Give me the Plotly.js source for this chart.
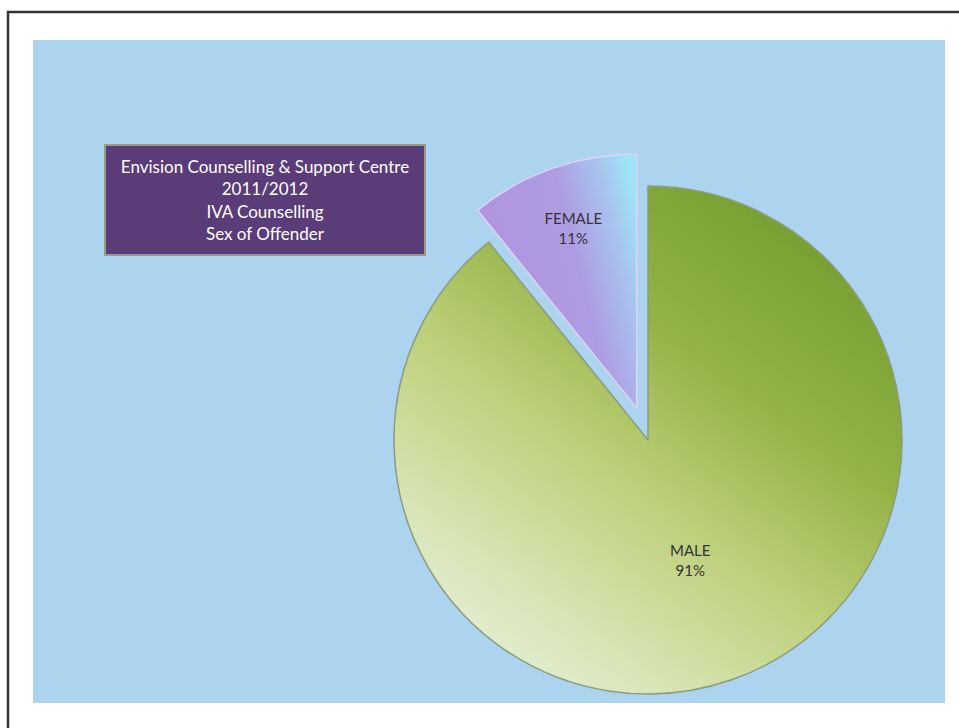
<!DOCTYPE html>
<html>
<head>
<meta charset="utf-8">
<script src="https://cdn.plot.ly/plotly-3.0.1.min.js"></script>
<style>html,body{margin:0;padding:0;background:#fff;}#chart{width:959px;height:728px;}</style>
</head>
<body>
<div id="chart"></div>
<script>
// ---- data ----
const labels = ["MALE", "FEMALE"];
const values = [91, 11];               // percentages as printed on the chart
const pulls = [0, 0.134];
const sliceColors = ["#a9c259", "#b39ae0"];
const sliceLines = ["#8d9b7f", "#dcd4f2"];
const titleLines = ["Envision Counselling &amp; Support Centre", "2011/2012", "IVA Counselling", "Sex of Offender"];

const W = 959, H = 728;
const px = v => v / W;
const py = v => 1 - v / H;

const trace = {
  type: "pie",
  labels: labels,
  values: values,
  sort: false,
  direction: "clockwise",
  rotation: 0,
  pull: pulls,
  marker: { colors: sliceColors, line: { color: sliceLines, width: 1.5 } },
  texttemplate: "%{label}<br>%{value}%",
  textposition: "inside",
  insidetextorientation: "horizontal",
  textfont: { family: "Lato, 'Open Sans', sans-serif", size: 15, color: "#333333" },
  hoverinfo: "label+value",
  showlegend: false,
  domain: { x: [px(360), px(936)], y: [0, py(152)] }
};

const layout = {
  width: W, height: H,
  margin: { l: 0, r: 0, t: 0, b: 0 },
  paper_bgcolor: "#ffffff",
  showlegend: false,
  shapes: [
    { type: "rect", xref: "paper", yref: "paper", layer: "below",
      x0: px(8), x1: px(975), y0: py(745), y1: py(12),
      line: { color: "#333333", width: 2.5 }, fillcolor: "rgba(0,0,0,0)" },
    { type: "rect", xref: "paper", yref: "paper", layer: "below",
      x0: px(33), x1: px(945), y0: py(703), y1: py(40),
      line: { width: 0 }, fillcolor: "#acd4ef" }
  ],
  annotations: [
    { xref: "paper", yref: "paper", x: px(265), y: py(200),
      xanchor: "center", yanchor: "middle", showarrow: false,
      text: titleLines.join("<br>"), align: "center",
      width: 314, height: 104, borderpad: 2,
      bgcolor: "#5a3d78", bordercolor: "#9a9a86", borderwidth: 2,
      font: { family: "Lato, 'Open Sans', sans-serif", size: 17, color: "#ffffff" } }
  ]
};

Plotly.newPlot("chart", [trace], layout, { displayModeBar: false, staticPlot: true }).then(function (gd) {
  const svg = gd.querySelector(".main-svg");
  const ns = "http://www.w3.org/2000/svg";
  let defs = svg.querySelector("defs");
  if (!defs) { defs = document.createElementNS(ns, "defs"); svg.insertBefore(defs, svg.firstChild); }
  function grad(id, x1, y1, x2, y2, stops) {
    const g = document.createElementNS(ns, "linearGradient");
    g.setAttribute("id", id);
    g.setAttribute("x1", x1); g.setAttribute("y1", y1);
    g.setAttribute("x2", x2); g.setAttribute("y2", y2);
    stops.forEach(function (s) {
      const st = document.createElementNS(ns, "stop");
      st.setAttribute("offset", s[0]);
      st.setAttribute("stop-color", s[1]);
      g.appendChild(st);
    });
    defs.appendChild(g);
  }
  grad("gMale", 0.95, 0.1, 0.3, 1.0, [[0, "#6f9b2c"], [0.35, "#93b346"], [0.6, "#bccf78"], [0.85, "#d6e3b0"], [1, "#e2edd0"]]);
  grad("gFemale", 0.0, 0.6, 1.0, 0.2, [[0, "#b292dc"], [0.6, "#ae9ce2"], [0.85, "#a8c4ee"], [1, "#9de4f8"]]);
  const paths = gd.querySelectorAll(".slice path.surface");
  if (paths[0]) paths[0].style.fill = "url(#gMale)";
  if (paths[1]) paths[1].style.fill = "url(#gFemale)";
});
</script>
</body>
</html>
